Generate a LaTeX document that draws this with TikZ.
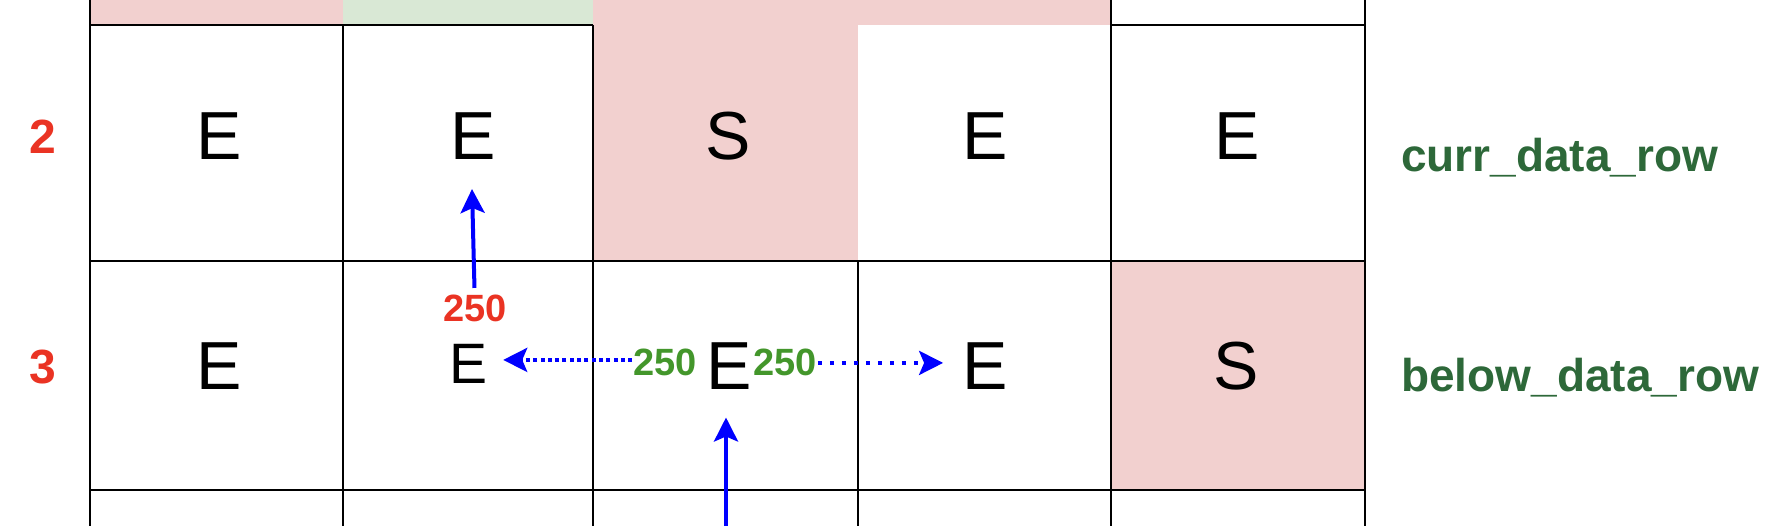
\documentclass[tikz,border=0pt]{standalone}
\usepackage{fontspec}
\setmainfont{Liberation Sans}
\usetikzlibrary{arrows.meta}
\definecolor{cellpink}{HTML}{F2D0CF}
\definecolor{cellgreen}{HTML}{D9E8D5}
\definecolor{lblred}{HTML}{EA3323}
\definecolor{lblgreen}{HTML}{43962B}
\definecolor{rowgreen}{HTML}{2D6839}
\definecolor{arrblue}{HTML}{0000FF}
\begin{document}
\begin{tikzpicture}[x=1pt,y=-1pt,
  gridline/.style={line width=1.7pt, black},
  letter/.style={font=\fontsize{68}{80}\selectfont, inner sep=0pt, anchor=base},
  smallletter/.style={font=\fontsize{57}{68}\selectfont, inner sep=0pt, anchor=base},
  rownum/.style={font=\fontsize{48}{56}\selectfont\bfseries, text=lblred, inner sep=0pt, anchor=base},
  redval/.style={font=\fontsize{38}{44}\selectfont\bfseries, text=lblred, inner sep=7pt, anchor=base},
  greenval/.style={font=\fontsize{38}{44}\selectfont\bfseries, text=lblgreen, inner sep=1pt, anchor=base},
  rowname/.style={font=\fontsize{46}{54}\selectfont\bfseries, text=rowgreen, inner sep=0pt, anchor=base west},
  bluetip/.style={-{Stealth[length=24pt,width=24pt,inset=5pt]}},
  solidarrow/.style={draw=arrblue, line width=4pt, bluetip},
  denseDots/.style={draw=arrblue, line width=4pt, dash pattern=on 4pt off 3.3pt, bluetip},
  sparseDots/.style={draw=arrblue, line width=4pt, dash pattern=on 4pt off 8pt, bluetip}
]
\useasboundingbox (0,0) rectangle (1792,526);
% fills
\fill[cellpink] (90,0) rectangle (343,25);
\fill[cellgreen] (343,0) rectangle (593,25);
\fill[cellpink] (593,0) rectangle (1111,25);
\fill[cellpink] (593,25) rectangle (858,261);
\fill[cellpink] (1111,261) rectangle (1365,490);
% grid lines
\draw[gridline] (90,0) -- (90,526);
\draw[gridline] (343,25) -- (343,526);
\draw[gridline] (593,25) -- (593,526);
\draw[gridline] (858,261) -- (858,526);
\draw[gridline] (1111,0) -- (1111,526);
\draw[gridline] (1365,0) -- (1365,526);
\draw[gridline] (90,25) -- (593,25);
\draw[gridline] (1111,25) -- (1365,25);
\draw[gridline] (90,261) -- (1365,261);
\draw[gridline] (90,490) -- (1365,490);
% cell letters
\node[letter] (e21) at (219,159.5) {E};
\node[letter] (e22) at (473,159.5) {E};
\node[letter] (s23) at (728,159.5) {S};
\node[letter] (e24) at (985,159.5) {E};
\node[letter] (e25) at (1237,159.5) {E};
\node[letter] (e31) at (219,389.3) {E};
\node[smallletter] (e32) at (469,383.3) {E};
\node[letter] (e33) at (729,389.3) {E};
\node[letter] (e34) at (985,389.3) {E};
\node[letter] (s35) at (1236,389.3) {S};
% row numbers
\node[rownum] (n2) at (43,153.3) {2};
\node[rownum] (n3) at (43,383.3) {3};
% values
\node[redval] (r250) at (475,321.7) {250};
\node[greenval] (gl) at (665,376) {250};
\node[greenval] (gr) at (785,376) {250};
% row names
\node[rowname] (curr) at (1401,171.7) {curr\_data\_row};
\node[rowname] (below) at (1401,391.7) {below\_data\_row};
% arrows
\coordinate (t1) at (472,189);
\coordinate (b0) at (726,530);
\draw[solidarrow] (r250) -- (t1);
\draw[solidarrow, shorten >=28pt] (b0) -- (b0 |- e33.south);
\draw[denseDots, shorten >=15pt] ([yshift=3pt]gl.west) -- ([yshift=3pt]gl.west -| e32.east);
\draw[sparseDots, shorten >=19pt] (gr.east) -- (gr.east -| e34.west);
\end{tikzpicture}
\end{document}
